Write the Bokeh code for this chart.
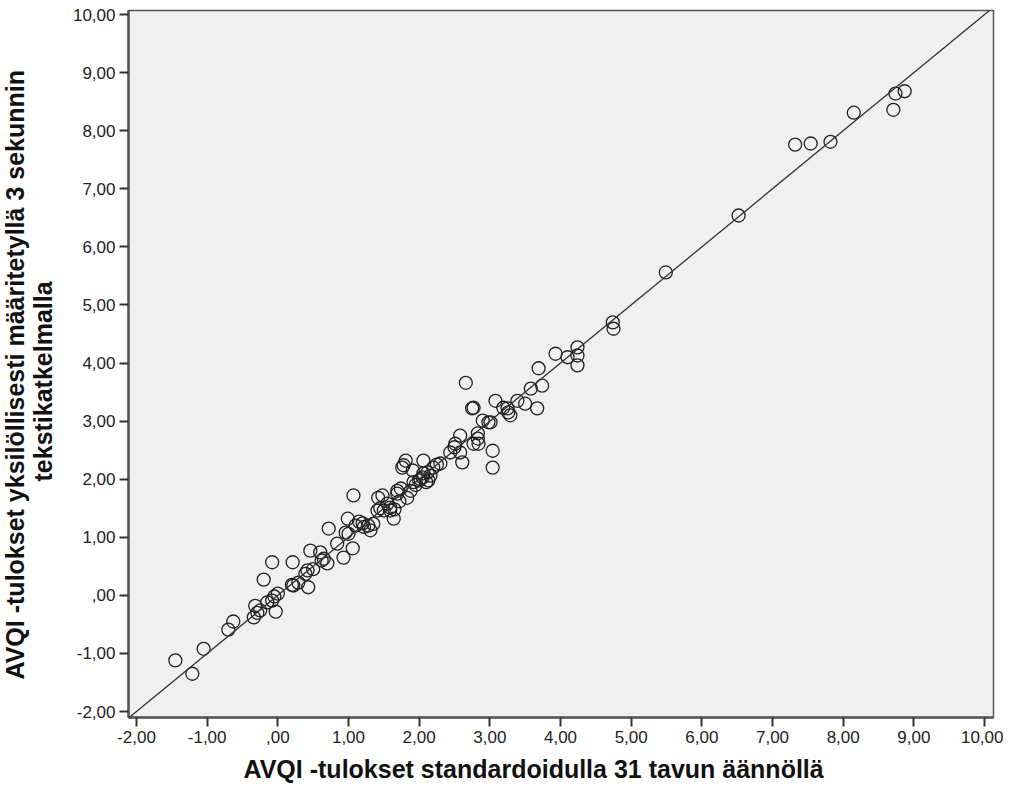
from bokeh.plotting import figure
from bokeh.models import Slope, FixedTicker, Range1d, Title
from bokeh.embed import file_html
from bokeh.resources import INLINE

x_vals = [-1.45, -1.21, -1.05, -0.70, -0.63, -0.34, -0.32, -0.29, -0.25, -0.20,
          -0.08, -0.15, -0.08, -0.03, 0.00, -0.05, 0.21, 0.22, 0.29, 0.43,
          0.39, 0.42, 0.46, 0.60, 0.65, 0.70, 0.62, 0.72, 0.84, 0.93,
          0.96, 0.99, 1.00, 1.06, 1.07, 1.20, 1.28, 1.31, 1.22, 1.41,
          1.42, 1.48, 1.45, 1.50, 1.55, 1.59, 1.59, 1.64, 1.69, 1.69,
          1.74, 1.78, 1.76, 1.81, 1.83, 1.88, 1.91, 1.92, 2.00, 2.05,
          2.06, 2.06, 2.10, 2.13, 2.16, 2.20, 2.30, 2.44, 2.51, 2.58,
          2.58, 2.61, 2.66, 2.75, 2.77, 2.77, 2.83, 2.83, 2.84, 2.90,
          2.98, 3.01, 3.04, 3.04, 3.08, 3.19, 3.25, 3.26, 3.29, 3.39,
          3.50, 3.58, 3.67, 3.69, 3.74, 3.93, 4.10, 4.24, 4.24, 4.24,
          4.74, 4.75, 5.49, 6.52, 7.32, 7.54, 7.82, 8.15, 8.71, 8.74,
          8.87, 1.35, 1.65, 1.72, 1.95, 2.02, 2.12, 2.25, 2.50, 0.50,
          0.20, 1.10, 1.15]
y_vals = [-1.12, -1.35, -0.92, -0.59, -0.45, -0.38, -0.18, -0.30, -0.26, 0.27,
          0.57, -0.12, -0.09, -0.28, 0.03, -0.02, 0.57, 0.17, 0.22, 0.14,
          0.37, 0.43, 0.77, 0.74, 0.63, 0.55, 0.60, 1.15, 0.89, 0.65,
          1.08, 1.32, 1.06, 0.81, 1.72, 1.24, 1.20, 1.12, 1.18, 1.46,
          1.68, 1.72, 1.50, 1.46, 1.58, 1.46, 1.51, 1.32, 1.75, 1.80,
          1.84, 2.24, 2.20, 2.32, 1.68, 1.80, 2.15, 1.95, 1.98, 2.03,
          2.10, 2.32, 1.95, 1.98, 2.06, 2.20, 2.27, 2.46, 2.61, 2.46,
          2.75, 2.29, 3.66, 3.22, 3.23, 2.61, 2.70, 2.79, 2.61, 3.01,
          2.98, 2.98, 2.49, 2.20, 3.35, 3.23, 3.22, 3.15, 3.10, 3.35,
          3.30, 3.56, 3.22, 3.91, 3.61, 4.16, 4.10, 4.27, 4.13, 3.96,
          4.70, 4.59, 5.56, 6.54, 7.76, 7.78, 7.81, 8.31, 8.36, 8.64,
          8.68, 1.23, 1.48, 1.62, 1.90, 2.00, 2.12, 2.25, 2.55, 0.45,
          0.18, 1.20, 1.27]

tick_values = [-2, -1, 0, 1, 2, 3, 4, 5, 6, 7, 8, 9, 10]
tick_labels = ["-2,00", "-1,00", ",00", "1,00", "2,00", "3,00", "4,00",
               "5,00", "6,00", "7,00", "8,00", "9,00", "10,00"]

x_label = "AVQI -tulokset standardoidulla 31 tavun äännöllä"
y_label_lines = ["AVQI -tulokset yksilöllisesti määritetyllä 3 sekunnin",
                 "tekstikatkelmalla"]

p = figure(width=1003, height=790, output_backend="svg", toolbar_location=None,
           x_range=Range1d(-2.113, 10.127), y_range=Range1d(-2.103, 10.07),
           min_border_left=128, min_border_right=10, min_border_top=10,
           min_border_bottom=73)
p.background_fill_color = "#f0f0f0"
p.border_fill_color = "white"
p.outline_line_color = "#555555"
p.outline_line_width = 1.5
p.grid.visible = False

for ax in (p.xaxis, p.yaxis):
    ax.ticker = FixedTicker(ticks=tick_values)
    ax.major_label_overrides = {v: l for v, l in zip(tick_values, tick_labels)}
    ax.minor_tick_line_color = None
    ax.major_tick_in = 0
    ax.major_tick_out = 9
    ax.major_tick_line_color = "#333333"
    ax.major_tick_line_width = 2
    ax.axis_line_color = "#555555"
    ax.axis_line_width = 2.5
    ax.major_label_text_font = "Liberation Sans"
    ax.major_label_text_font_size = "17px"
    ax.major_label_text_color = "#222222"

p.xaxis.major_label_standoff = 4
p.yaxis.major_label_standoff = 4

title_style = dict(text_font="Liberation Sans", text_font_style="bold",
                   text_font_size="25px", text_color="#111111", align="left")
p.add_layout(Title(text=x_label, offset=115, standoff=14, **title_style), "below")
p.add_layout(Title(text=y_label_lines[1], offset=236, standoff=26, **title_style), "left")
p.add_layout(Title(text=y_label_lines[0], offset=38, standoff=-30, **title_style), "left")

p.add_layout(Slope(gradient=1, y_intercept=0, line_color="#333333", line_width=1.3))

p.scatter(x_vals, y_vals, marker="circle", size=13, fill_color=None,
          line_color="#222222", line_width=1.3)

open("out.html", "w").write(file_html(p, INLINE))
